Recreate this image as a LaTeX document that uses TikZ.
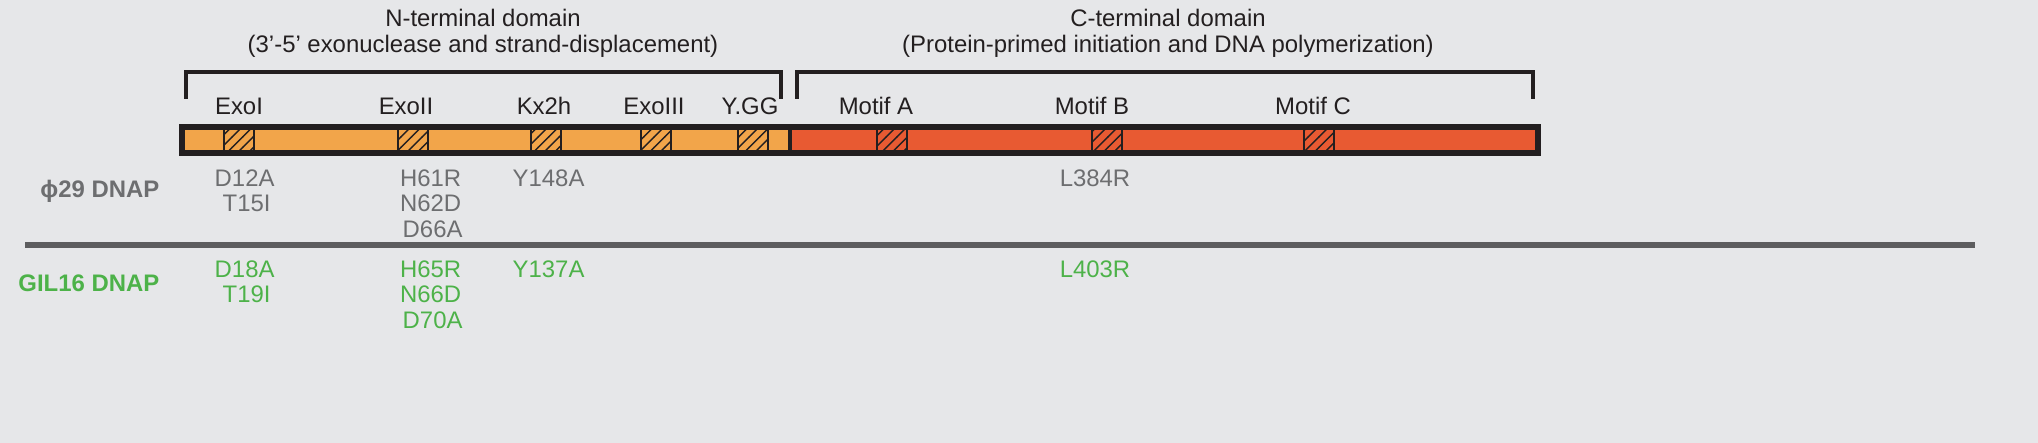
\documentclass[tikz,border=0pt]{standalone}
\usepackage{fontspec}
\setmainfont{Liberation Sans}
\usetikzlibrary{patterns}
\definecolor{bg}{HTML}{E6E7E9}
\definecolor{orng}{HTML}{F2A54A}
\definecolor{rd}{HTML}{E85A32}
\definecolor{gtxt}{HTML}{6D6E70}
\definecolor{gr}{HTML}{4DB249}
\definecolor{dk}{HTML}{231F20}
\tikzset{
 x=0.01cm,y=-0.01cm,
 lbl/.style={font=\fontsize{6.8pt}{7.4pt}\selectfont, text=dk, inner sep=0pt},
 mut/.style={font=\fontsize{6.8pt}{7.25pt}\selectfont, inner sep=0pt, align=center},
 hat/.style={draw=dk, line width=0.5pt, pattern=north east lines, pattern color=dk},
 brk/.style={draw=dk, line width=1.3pt},
 rowlbl/.style={font=\bfseries\fontsize{6.8pt}{7.25pt}\selectfont, inner sep=0pt, anchor=east}
}
\begin{document}
\begin{tikzpicture}
\fill[bg] (0,0) rectangle (2038,443);
\useasboundingbox (0,0) rectangle (2038,443);
% titles
\node[lbl, align=center] (nt) at (483,33) {N-terminal domain\\(3’-5’ exonuclease and strand-displacement)};
\node[lbl, align=center] (ct) at (1168,33) {C-terminal domain\\(Protein-primed initiation and DNA polymerization)};
% brackets
\draw[brk] (186,99) -- (186,72) -- (781,72) -- (781,99);
\draw[brk] (797,99) -- (797,72) -- (1533,72) -- (1533,99);
% bar
\fill[orng] (182,127) rectangle (790,153);
\fill[rd] (790,127) rectangle (1538,153);
\foreach \a in {224,398,531,641,738,877,1092,1304}
  \draw[hat] (\a,128) rectangle (\a+30,152);
\draw[draw=dk, line width=1.6pt] (182,127) rectangle (1538,153);
\draw[draw=dk, line width=1.2pt] (790,127) -- (790,153);
% motif labels
\node[lbl] (l1) at (239,106) {ExoI};
\node[lbl] (l2) at (406,106) {ExoII};
\node[lbl] (l3) at (544,106) {Kx2h};
\node[lbl] (l4) at (654,106) {ExoIII};
\node[lbl] (l5) at (750,106) {Y.GG};
\node[lbl] (l6) at (876,106) {Motif A};
\node[lbl] (l7) at (1092,106) {Motif B};
\node[lbl] (l8) at (1313,106) {Motif C};
% phi29 row
\node[rowlbl, text=gtxt] (p) at (160,191) {ϕ29 DNAP};
\node[mut, text=gtxt, anchor=north west] (p1) at (214,169) {D12A\\\,T15I};
\node[mut, text=gtxt, anchor=north west] (p2) at (398,169) {H61R\\N62D\\\,D66A};
\node[mut, text=gtxt, anchor=north west] (p3) at (512,169) {Y148A};
\node[mut, text=gtxt, anchor=north] (p4) at (1095,169) {L384R};
% separator
\draw[draw=gtxt!85!black, line width=1.6pt] (25,245) -- (1975,245);
% GIL16 row
\node[rowlbl, text=gr] (g) at (160,283) {GIL16 DNAP};
\node[mut, text=gr, anchor=north west] (g1) at (214,260) {D18A\\\,T19I};
\node[mut, text=gr, anchor=north west] (g2) at (398,260) {H65R\\N66D\\\,D70A};
\node[mut, text=gr, anchor=north west] (g3) at (512,260) {Y137A};
\node[mut, text=gr, anchor=north] (g4) at (1095,260) {L403R};
\end{tikzpicture}
\end{document}
